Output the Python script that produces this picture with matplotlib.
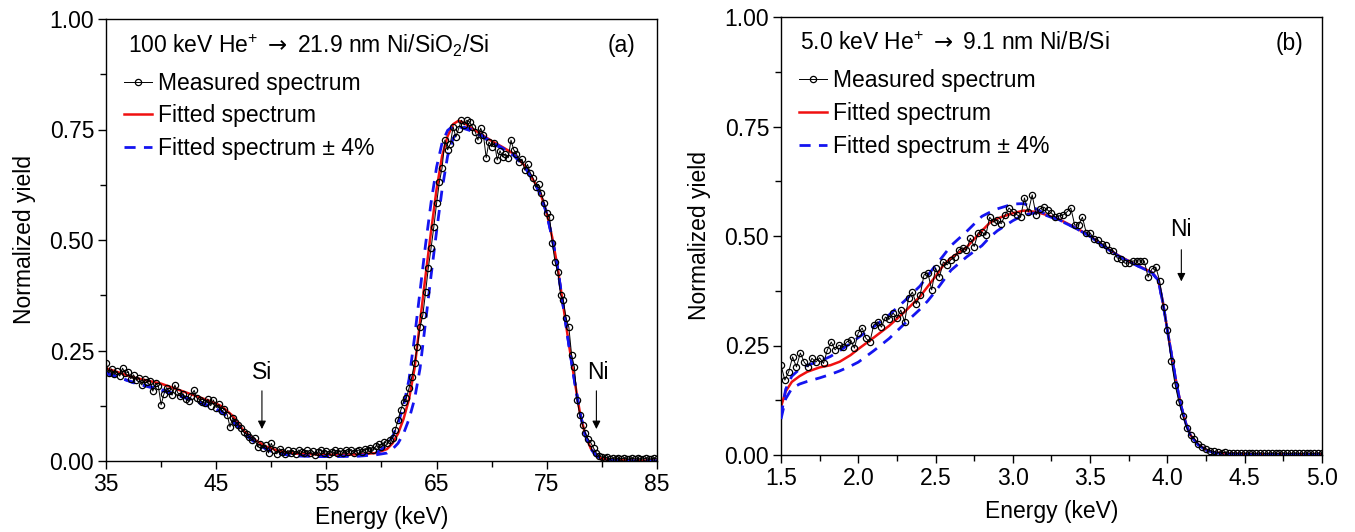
import numpy as np
import matplotlib
matplotlib.use("Agg")
import matplotlib.pyplot as plt
from matplotlib.ticker import MultipleLocator, FormatStrFormatter

plt.rcParams['font.family'] = ['Liberation Sans', 'DejaVu Sans']
plt.rcParams['mathtext.fontset'] = 'custom'
plt.rcParams['mathtext.rm'] = 'Liberation Sans'
plt.rcParams['mathtext.it'] = 'Liberation Sans:italic'
plt.rcParams['mathtext.sf'] = 'DejaVu Sans'
FS = 16.5
plt.rcParams['font.size'] = FS

# ---------------- panel (a): 100 keV He+ -> Ni/SiO2/Si ----------------
# measured channels, 0.25 keV apart starting at 35 keV
meas_a_start, meas_a_step = 35.0, 0.25
meas_a = [
    0.221, 0.199, 0.208, 0.196,  # 35
    0.203, 0.192, 0.210, 0.198,
    0.201, 0.186, 0.195, 0.183,
    0.188, 0.172, 0.185, 0.178,
    0.181, 0.158, 0.176, 0.170,
    0.127, 0.151, 0.166, 0.158,  # 40
    0.149, 0.172, 0.155, 0.146,
    0.152, 0.141, 0.135, 0.148,
    0.160, 0.142, 0.139, 0.133,
    0.131, 0.140, 0.125, 0.138,
    0.121, 0.128, 0.112, 0.118,  # 45
    0.105, 0.077, 0.098, 0.088,
    0.082, 0.074, 0.065, 0.061,
    0.055, 0.047, 0.052, 0.032,
    0.038, 0.029, 0.036, 0.018,
    0.040, 0.025, 0.016, 0.028,  # 50
    0.021, 0.015, 0.024, 0.019,
    0.023, 0.016, 0.025, 0.021,
    0.019, 0.024, 0.017, 0.022,
    0.013, 0.020, 0.026, 0.018,
    0.022, 0.016, 0.021, 0.025,  # 55
    0.018, 0.023, 0.019, 0.024,
    0.021, 0.026, 0.019, 0.023,
    0.025, 0.021, 0.028, 0.024,
    0.030, 0.026, 0.034, 0.038,
    0.032, 0.043, 0.040, 0.047,  # 60
    0.052, 0.070, 0.093, 0.115,
    0.134, 0.142, 0.165, 0.190,
    0.222, 0.258, 0.303, 0.330,
    0.382, 0.437, 0.482, 0.530,
    0.583, 0.631, 0.663, 0.726,  # 65
    0.704, 0.718, 0.756, 0.733,
    0.752, 0.771, 0.760, 0.771,
    0.767, 0.756, 0.745, 0.726,
    0.753, 0.737, 0.686, 0.722,
    0.711, 0.720, 0.681, 0.702,  # 70
    0.688, 0.695, 0.686, 0.726,
    0.704, 0.695, 0.677, 0.683,
    0.658, 0.671, 0.652, 0.640,
    0.620, 0.626, 0.606, 0.584,
    0.561, 0.552, 0.493, 0.450,  # 75
    0.428, 0.376, 0.364, 0.323,
    0.303, 0.240, 0.213, 0.138,
    0.104, 0.081, 0.063, 0.050,
    0.041, 0.029, 0.018, 0.012,
    0.009, 0.007, 0.008, 0.005,  # 80
    0.006, 0.004, 0.007, 0.005,
    0.006, 0.005, 0.004, 0.006,
    0.005, 0.007, 0.004, 0.005,
    0.006, 0.004, 0.005, 0.006,
    0.005,                       # 85
]

fit_e_a = [35, 37.5, 40, 42.5, 44.5, 45.5, 46.5, 47.5, 48.5, 49.5, 50.5, 52, 55,
           58, 59.5, 60.5, 61, 61.5, 62, 62.5, 63, 63.5, 64, 64.5, 65, 65.5, 66,
           66.5, 67, 67.5, 68, 69, 70, 71, 72, 73, 74, 74.5, 75, 75.5, 76, 76.5,
           77, 77.5, 78, 78.5, 79, 79.5, 80, 81, 83, 85]
fit_a = [0.210, 0.189, 0.175, 0.153, 0.135, 0.124, 0.102, 0.068, 0.048, 0.033,
         0.024, 0.017, 0.014, 0.015, 0.018, 0.027, 0.040, 0.062, 0.095, 0.140,
         0.210, 0.315, 0.420, 0.520, 0.615, 0.690, 0.735, 0.762, 0.770, 0.765,
         0.756, 0.740, 0.724, 0.710, 0.695, 0.668, 0.626, 0.600, 0.560, 0.505,
         0.435, 0.350, 0.265, 0.185, 0.110, 0.058, 0.028, 0.012, 0.005, 0.002,
         0.001, 0.001]
fit_hi_a = [0.200, 0.177, 0.160, 0.140, 0.122, 0.110, 0.090, 0.062, 0.042, 0.028,
            0.018, 0.012, 0.010, 0.012, 0.018, 0.035, 0.055, 0.085, 0.125, 0.185,
            0.280, 0.385, 0.490, 0.585, 0.665, 0.720, 0.748, 0.758, 0.757, 0.752,
            0.748, 0.736, 0.720, 0.706, 0.691, 0.665, 0.624, 0.598, 0.558, 0.503,
            0.433, 0.348, 0.263, 0.183, 0.109, 0.057, 0.027, 0.011, 0.004, 0.001,
            0.000, 0.000]
fit_lo_a = [0.198, 0.178, 0.162, 0.142, 0.124, 0.112, 0.094, 0.066, 0.044, 0.027,
            0.017, 0.012, 0.010, 0.011, 0.014, 0.018, 0.027, 0.040, 0.062, 0.095,
            0.140, 0.210, 0.315, 0.420, 0.520, 0.615, 0.690, 0.730, 0.748, 0.755,
            0.752, 0.738, 0.722, 0.708, 0.693, 0.667, 0.625, 0.599, 0.559, 0.504,
            0.434, 0.349, 0.264, 0.184, 0.110, 0.058, 0.028, 0.012, 0.005, 0.001,
            0.000, 0.000]

# ---------------- panel (b): 5.0 keV He+ -> Ni/B/Si ----------------
meas_b_start, meas_b_step = 1.5, 0.025
meas_b = [
    0.205, 0.171, 0.190, 0.224,  # 1.5
    0.201, 0.233, 0.212, 0.201,
    0.221, 0.212, 0.222, 0.209,
    0.240, 0.258, 0.240, 0.251,
    0.246, 0.258, 0.263, 0.244,
    0.279, 0.290, 0.266, 0.258,  # 2.0
    0.297, 0.304, 0.292, 0.315,
    0.310, 0.324, 0.313, 0.331,
    0.304, 0.358, 0.372, 0.345,
    0.365, 0.411, 0.416, 0.377,
    0.427, 0.406, 0.441, 0.434,  # 2.5
    0.446, 0.452, 0.468, 0.473,
    0.468, 0.495, 0.476, 0.507,
    0.509, 0.502, 0.543, 0.532,
    0.537, 0.528, 0.548, 0.564,
    0.555, 0.549, 0.543, 0.587,  # 3.0
    0.555, 0.594, 0.548, 0.562,
    0.566, 0.559, 0.552, 0.543,
    0.546, 0.548, 0.555, 0.564,
    0.525, 0.525, 0.543, 0.507,
    0.507, 0.493, 0.491, 0.482,  # 3.5
    0.479, 0.468, 0.466, 0.450,
    0.447, 0.438, 0.438, 0.443,
    0.443, 0.443, 0.443, 0.406,
    0.425, 0.429, 0.397, 0.338,
    0.285, 0.215, 0.160, 0.120,  # 4.0
    0.089, 0.062, 0.045, 0.037,
    0.025, 0.018, 0.014, 0.010,
    0.008, 0.006, 0.005, 0.006,
    0.004, 0.005, 0.004, 0.005,
    0.004, 0.005, 0.004, 0.004,  # 4.5
    0.005, 0.004, 0.004, 0.005,
    0.004, 0.004, 0.005, 0.004,
    0.004, 0.005, 0.004, 0.004,
    0.005, 0.004, 0.004, 0.005,
    0.004,                       # 5.0
]

fit_e_b = [1.5, 1.53, 1.57, 1.62, 1.67, 1.75, 1.82, 1.88, 1.95, 2.0, 2.1, 2.2,
           2.3, 2.4, 2.45, 2.5, 2.55, 2.6, 2.7, 2.8, 2.85, 2.9, 3.0, 3.07, 3.15,
           3.2, 3.3, 3.4, 3.5, 3.6, 3.7, 3.8, 3.9, 3.94, 3.97, 4.0, 4.03, 4.06,
           4.09, 4.12, 4.15, 4.2, 4.25, 4.3, 4.4, 4.6, 5.0]
fit_b = [0.110, 0.145, 0.167, 0.180, 0.190, 0.200, 0.205, 0.213, 0.228, 0.242,
         0.268, 0.295, 0.327, 0.362, 0.385, 0.408, 0.433, 0.450, 0.474, 0.512,
         0.530, 0.540, 0.552, 0.558, 0.555, 0.550, 0.538, 0.520, 0.500, 0.474,
         0.452, 0.434, 0.417, 0.400, 0.350, 0.285, 0.222, 0.160, 0.110, 0.072,
         0.045, 0.024, 0.012, 0.006, 0.003, 0.002, 0.002]
fit_hi_b = [0.088, 0.150, 0.180, 0.196, 0.205, 0.214, 0.225, 0.238, 0.255, 0.268,
            0.293, 0.320, 0.352, 0.386, 0.410, 0.433, 0.455, 0.478, 0.510, 0.545,
            0.554, 0.562, 0.573, 0.574, 0.562, 0.552, 0.537, 0.519, 0.499, 0.473,
            0.451, 0.433, 0.416, 0.399, 0.349, 0.284, 0.221, 0.159, 0.109, 0.071,
            0.044, 0.023, 0.011, 0.005, 0.002, 0.001, 0.001]
fit_lo_b = [0.082, 0.128, 0.152, 0.162, 0.168, 0.176, 0.184, 0.192, 0.203, 0.212,
            0.238, 0.266, 0.300, 0.333, 0.352, 0.374, 0.398, 0.422, 0.452, 0.478,
            0.497, 0.512, 0.535, 0.548, 0.553, 0.549, 0.536, 0.519, 0.499, 0.473,
            0.451, 0.433, 0.416, 0.399, 0.349, 0.284, 0.221, 0.159, 0.109, 0.071,
            0.044, 0.023, 0.011, 0.005, 0.002, 0.001, 0.001]

title_a = r'100 keV He$^{+}$ $\mathsf{\rightarrow}$ 21.9 nm Ni/SiO$_{2}$/Si'
title_b = r'5.0 keV He$^{+}$ $\mathsf{\rightarrow}$ 9.1 nm Ni/B/Si'


def draw_panel(ax, e_meas, y_meas, e_fit, y_fit, y_hi, y_lo):
    ax.plot(e_fit, y_fit, color='#f01010', lw=1.8, label='Fitted spectrum', zorder=2)
    ax.plot(e_fit, y_hi, color='#1414f0', lw=2.0, ls=(0, (4, 3)),
            label='Fitted spectrum ± 4%', zorder=3)
    ax.plot(e_fit, y_lo, color='#1414f0', lw=2.0, ls=(0, (4, 3)), zorder=3)
    ax.plot(e_meas, y_meas, color='black', lw=0.7, marker='o', ms=4.5,
            mfc='none', mec='black', mew=0.9, label='Measured spectrum', zorder=4)
    ax.set_ylim(0, 1.0)
    ax.yaxis.set_major_locator(MultipleLocator(0.25))
    ax.yaxis.set_minor_locator(MultipleLocator(0.125))
    ax.yaxis.set_major_formatter(FormatStrFormatter('%.2f'))
    ax.tick_params(which='both', direction='out', top=False, right=False,
                   labelsize=FS, width=1.0, pad=2.5)
    ax.tick_params(which='major', length=6)
    ax.tick_params(which='minor', length=4)
    for sp in ax.spines.values():
        sp.set_linewidth(1.0)
    ax.set_xlabel('Energy (keV)', fontsize=FS, labelpad=7)
    ax.set_ylabel('Normalized yield', fontsize=FS, labelpad=10)
    h, l = ax.get_legend_handles_labels()
    order = [2, 0, 1]
    ax.legend([h[i] for i in order], [l[i] for i in order], loc='upper left',
              bbox_to_anchor=(0.0, 0.922), frameon=False, fontsize=FS,
              handlelength=1.2, handletextpad=0.25, labelspacing=0.42,
              numpoints=1, borderaxespad=0.4)


fig = plt.figure(figsize=(13.55, 5.32), dpi=100)
ax_a = fig.add_axes([106 / 1355, 71 / 532, 551 / 1355, 442 / 532])
ax_b = fig.add_axes([781 / 1355, 77 / 532, 541 / 1355, 438 / 532])

e_a = meas_a_start + meas_a_step * np.arange(len(meas_a))
draw_panel(ax_a, e_a, meas_a, fit_e_a, fit_a, fit_hi_a, fit_lo_a)
ax_a.set_xlim(35, 85)
ax_a.xaxis.set_major_locator(MultipleLocator(10))
ax_a.xaxis.set_minor_locator(MultipleLocator(5))
ax_a.set_xticks([35, 45, 55, 65, 75, 85])
ax_a.text(0.04, 0.94, title_a, transform=ax_a.transAxes, fontsize=FS, va='center')
ax_a.text(0.96, 0.94, '(a)', transform=ax_a.transAxes, fontsize=FS, va='center', ha='right')
ax_a.text(49.2, 0.20, 'Si', ha='center', va='center', fontsize=FS)
ax_a.annotate('', xy=(49.15, 0.066), xytext=(49.15, 0.165),
              arrowprops=dict(arrowstyle='-|>', color='black', lw=0.8, mutation_scale=12))
ax_a.text(79.6, 0.20, 'Ni', ha='center', va='center', fontsize=FS)
ax_a.annotate('', xy=(79.5, 0.066), xytext=(79.5, 0.165),
              arrowprops=dict(arrowstyle='-|>', color='black', lw=0.8, mutation_scale=12))

e_b = meas_b_start + meas_b_step * np.arange(len(meas_b))
draw_panel(ax_b, e_b, meas_b, fit_e_b, fit_b, fit_hi_b, fit_lo_b)
ax_b.set_xlim(1.5, 5.0)
ax_b.xaxis.set_major_locator(MultipleLocator(0.5))
ax_b.xaxis.set_minor_locator(MultipleLocator(0.25))
ax_b.xaxis.set_major_formatter(FormatStrFormatter('%.1f'))
ax_b.text(0.035, 0.94, title_b, transform=ax_b.transAxes, fontsize=FS, va='center')
ax_b.text(0.965, 0.94, '(b)', transform=ax_b.transAxes, fontsize=FS, va='center', ha='right')
ax_b.text(4.09, 0.515, 'Ni', ha='center', va='center', fontsize=FS)
ax_b.annotate('', xy=(4.09, 0.39), xytext=(4.09, 0.475),
              arrowprops=dict(arrowstyle='-|>', color='black', lw=0.8, mutation_scale=12))

fig.savefig('out.png', dpi=100)
